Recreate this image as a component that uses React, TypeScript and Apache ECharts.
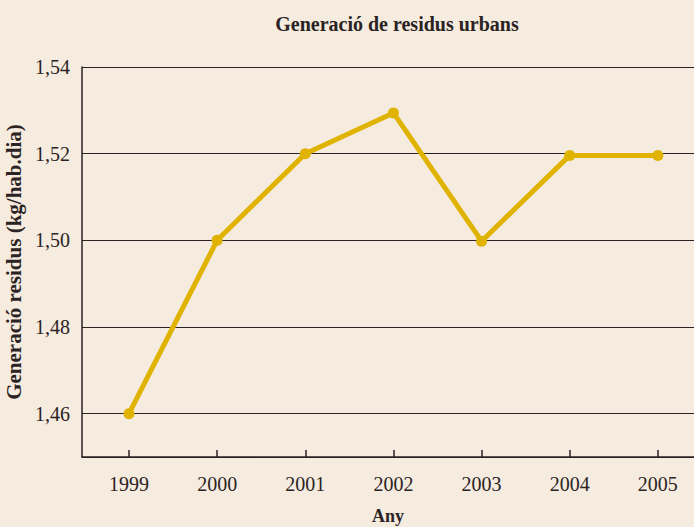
import React, { useEffect, useRef } from "react";
import * as echarts from "echarts";

const years = [1999, 2000, 2001, 2002, 2003, 2004, 2005];
const values = [1.46, 1.5, 1.52, 1.5294, 1.4998, 1.5196, 1.5196];
const yTicks = [1.46, 1.48, 1.5, 1.52, 1.54];

const TITLE = "Generació de residus urbans";
const Y_NAME = "Generació residus (kg/hab.dia)";
const X_NAME = "Any";

const FONT = "'Liberation Serif', 'DejaVu Serif', serif";
const INK = "#2b2323";

export default function App() {
  const ref = useRef<HTMLDivElement>(null);
  useEffect(() => {
    document.body.style.margin = "0";
    const chart = echarts.init(ref.current!, null, { renderer: "svg" });
    chart.setOption({
      animation: false,
      backgroundColor: "#f5ebdf",
      title: {
        text: TITLE,
        left: 392,
        top: 9,
        textAlign: "center",
        textStyle: { fontFamily: FONT, fontWeight: "bold", fontSize: 20, color: INK },
      },
      grid: { left: 82, right: 0, top: 67, bottom: 70, outerBoundsMode: "none", containLabel: false },
      xAxis: {
        type: "value",
        min: 1998.467,
        max: 2005.41,
        name: X_NAME,
        nameLocation: "middle",
        nameGap: 50,
        nameTextStyle: { fontFamily: FONT, fontWeight: "bold", fontSize: 18, color: INK },
        axisLine: { show: true, lineStyle: { color: INK, width: 1.5 } },
        axisTick: { show: true, inside: true, length: 7, customValues: years, lineStyle: { color: INK, width: 1.5 } },
        axisLabel: {
          customValues: years,
          margin: 17,
          fontFamily: FONT,
          fontSize: 20,
          color: INK,
          formatter: (v: number) => (Math.abs(v - Math.round(v)) < 1e-6 ? String(Math.round(v)) : ""),
        },
        splitLine: { show: false },
      },
      yAxis: {
        type: "value",
        min: 1.45,
        max: 1.54,
        splitNumber: 5,
        name: Y_NAME,
        nameLocation: "middle",
        nameGap: 56,
        nameTextStyle: { fontFamily: FONT, fontWeight: "bold", fontSize: 21, color: INK },
        axisLine: { show: true, lineStyle: { color: INK, width: 1.5 } },
        axisTick: { show: false },
        axisLabel: {
          margin: 12,
          fontFamily: FONT,
          fontSize: 20,
          color: INK,
          formatter: (v: number) =>
            yTicks.some((t) => Math.abs(t - v) < 1e-6) ? v.toFixed(2).replace(".", ",") : "",
        },
        splitLine: { show: true, lineStyle: { color: INK, width: 1 } },
      },
      series: [
        {
          type: "line",
          data: years.map((y, i) => [y, values[i]]),
          lineStyle: { color: "#e0b300", width: 5 },
          itemStyle: { color: "#e0b300" },
          symbol: "circle",
          symbolSize: 11,
          showSymbol: true,
          clip: false,
        },
      ],
    });
    return () => chart.dispose();
  }, []);
  return <div ref={ref} style={{ width: 694, height: 527 }} />;
}
